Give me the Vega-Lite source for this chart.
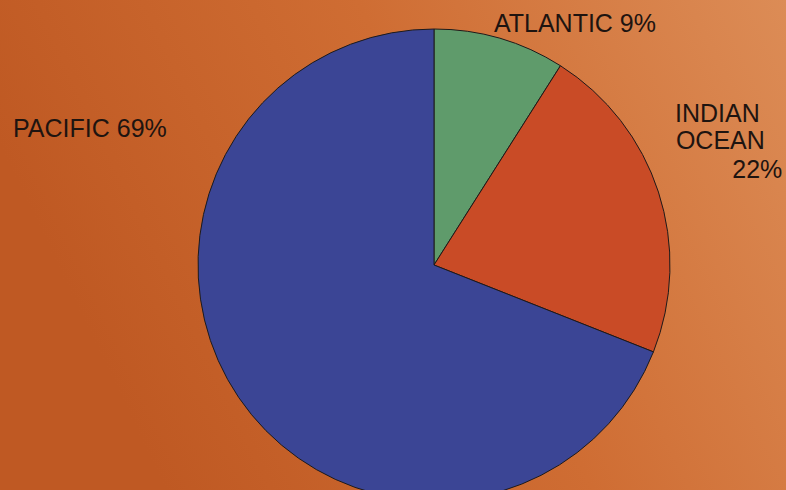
{
  "$schema": "https://vega.github.io/schema/vega-lite/v6.json",
  "width": 786,
  "height": 490,
  "padding": 0,
  "autosize": {"type": "none"},
  "background": "#cc6a32",
  "config": {
    "view": {"stroke": null},
    "text": {"font": "Liberation Sans"}
  },
  "layer": [
    {
      "data": {"values": [{"bg": 1}]},
      "mark": {
        "type": "rect",
        "color": {
          "gradient": "linear",
          "x1": 0, "y1": 0.3, "x2": 1, "y2": 0,
          "stops": [
            {"offset": 0, "color": "#bf5923"},
            {"offset": 0.5, "color": "#cf6d33"},
            {"offset": 1, "color": "#dc8c56"}
          ]
        }
      },
      "encoding": {}
    },
    {
      "data": {"values": [
        {"ocean": "ATLANTIC", "value": 9, "order": 1},
        {"ocean": "INDIAN OCEAN", "value": 22, "order": 2},
        {"ocean": "PACIFIC", "value": 69, "order": 3}
      ]},
      "mark": {"type": "arc", "outerRadius": 236, "stroke": "#1e1a1a", "strokeWidth": 1, "xOffset": 41, "yOffset": 20},
      "encoding": {
        "theta": {"field": "value", "type": "quantitative", "stack": true, "scale": {"domain": [0, 100]}},
        "order": {"field": "order", "type": "quantitative"},
        "color": {
          "field": "ocean", "type": "nominal", "legend": null,
          "scale": {"domain": ["ATLANTIC", "INDIAN OCEAN", "PACIFIC"], "range": ["#5f9b6b", "#c94b26", "#3b4595"]}
        }
      }
    },
    {
      "data": {"values": [
        {"label": "ATLANTIC 9%", "pos": 8.43, "r": 279},
        {"label": "INDIAN", "pos": 17.21, "r": 321},
        {"label": "OCEAN", "pos": 18.5, "r": 312},
        {"label": "22%", "pos": 20.45, "r": 337},
        {"label": "PACIFIC 69%", "pos": 80.99, "r": 370}
      ]},
      "mark": {"type": "text", "fontSize": 25, "color": "#1e1410", "align": "center", "baseline": "middle", "xOffset": 41, "yOffset": 20},
      "encoding": {
        "theta": {"field": "pos", "type": "quantitative", "stack": null, "scale": {"domain": [0, 100]}},
        "radius": {"field": "r", "type": "quantitative", "scale": {"type": "linear", "domain": [0, 400], "range": [0, 400], "zero": true}},
        "text": {"field": "label"}
      }
    }
  ]
}
